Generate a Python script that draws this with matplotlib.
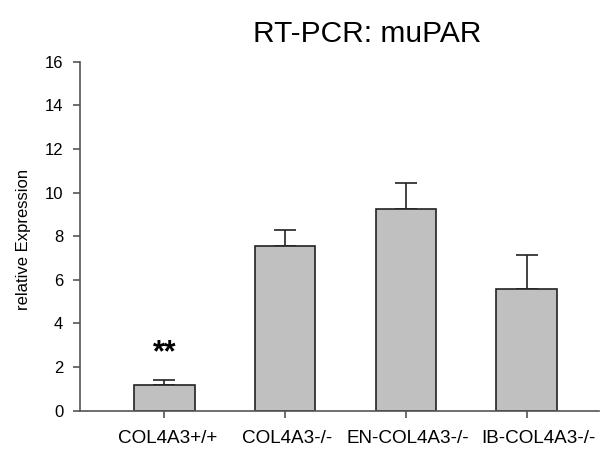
import matplotlib
matplotlib.use("Agg")
import matplotlib.pyplot as plt
import matplotlib.transforms as mtransforms
import numpy as np

categories = ["COL4A3+/+", "COL4A3-/-", "EN-COL4A3-/-", "IB-COL4A3-/-"]
values = [1.17, 7.55, 9.25, 5.58]
errors = [0.26, 0.73, 1.2, 1.55]
yticks = [0, 2, 4, 6, 8, 10, 12, 14, 16]

plt.rcParams['font.family'] = ['Liberation Sans', 'DejaVu Sans']

fig = plt.figure(figsize=(6.02, 4.5), dpi=100)
ax = fig.add_axes([80/602, 39.3/450, 519/602, 349/450])

x = np.arange(len(categories))
ax.bar(x, values, width=0.5, color="#c0c0c0", edgecolor="#222222", linewidth=1.2, zorder=2)
ax.errorbar(x, values, yerr=[np.zeros(len(errors)), errors], fmt="none",
            ecolor="#222222", elinewidth=1.2, capsize=8, capthick=1.2, zorder=1)

ax.text(x[0], 2.65, "**", ha="center", va="center", fontsize=22, fontweight="bold")

ax.set_xlim(-0.7, 3.6)
ax.set_ylim(0, 16)
ax.set_yticks(yticks)
ax.set_xticks(x)
ax.set_xticklabels(categories)
for s in ["top", "right"]:
    ax.spines[s].set_visible(False)
for s in ["left", "bottom"]:
    ax.spines[s].set_color("#555555")
    ax.spines[s].set_linewidth(1.2)
ax.tick_params(axis="y", direction="out", length=5, width=1.2, color="#555555", labelsize=12, pad=7)
ax.tick_params(axis="x", direction="out", length=5, width=1.2, color="#555555", labelsize=13.6, pad=9)

# small horizontal nudges of the tick labels (pixels), as in the reference
label_shift_px = [3, 2, 2, 12]
for lab, dx in zip(ax.get_xticklabels(), label_shift_px):
    lab.set_transform(lab.get_transform() +
                      mtransforms.ScaledTranslation(dx / 100, 0, fig.dpi_scale_trans))

ax.set_ylabel("relative Expression", fontsize=12)
ax.yaxis.set_label_coords(-0.095, 0.49)
ax.set_title("RT-PCR: muPAR", fontsize=21.5, pad=14, x=0.553)

fig.savefig("out.png", dpi=100)
